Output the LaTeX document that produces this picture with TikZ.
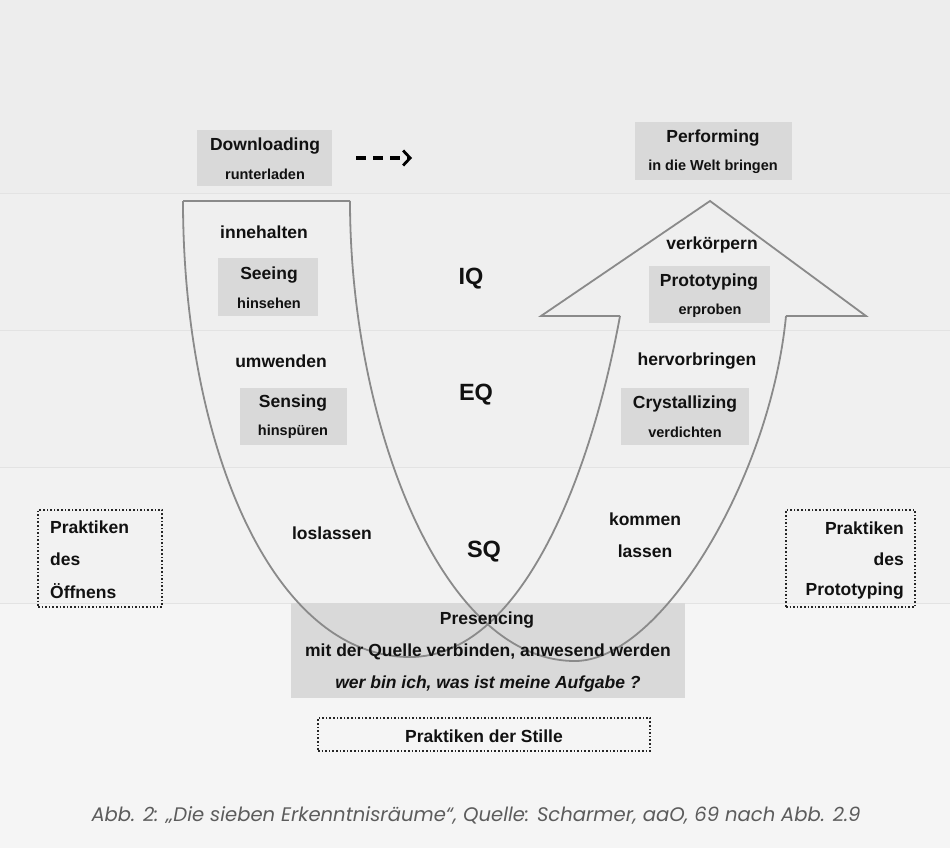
\documentclass[tikz,border=0pt]{standalone}
\usepackage{fontspec}
\setmainfont{Liberation Sans}
\newfontfamily\capfont{Poppins}
\usetikzlibrary{arrows.meta}
\definecolor{bgA}{HTML}{EDEDED}
\definecolor{bgB}{HTML}{EFEFEF}
\definecolor{bgC}{HTML}{F0F0F0}
\definecolor{bgD}{HTML}{F2F2F2}
\definecolor{bgE}{HTML}{F5F5F5}
\definecolor{bandline}{HTML}{E3E3E3}
\definecolor{boxgray}{HTML}{D9D9D9}
\definecolor{linegray}{HTML}{8A8A8A}
\definecolor{capgray}{HTML}{5C5C5C}
\definecolor{txt}{HTML}{111111}
\begin{document}
\begin{tikzpicture}[x=1pt,y=-1pt,
  lbl/.style={font=\fontsize{17.5}{20}\bfseries\selectfont, text=txt, inner sep=0pt},
  sublbl/.style={font=\fontsize{14.5}{17}\bfseries\selectfont, text=txt, inner sep=0pt},
  biglbl/.style={font=\fontsize{23.5}{26}\bfseries\selectfont, text=txt, inner sep=0pt},
  graybox/.style={fill=boxgray, draw=none, inner sep=0pt},
  dotbox/.style={draw=black!85, dotted, line width=1.6pt, inner sep=0pt},
  ushape/.style={draw=linegray, line width=1.8pt, line join=miter},
  dasharrow/.style={draw=black, line width=3.2pt, dash pattern=on 10pt off 7pt, -{Straight Barb[length=7pt,width=15pt,line width=2.8pt]}}
]
\useasboundingbox (0,0) rectangle (950,848);
% background bands
\fill[bgA] (0,0) rectangle (950,193);
\fill[bgB] (0,193) rectangle (950,330);
\fill[bgC] (0,330) rectangle (950,467);
\fill[bgD] (0,467) rectangle (950,603);
\fill[bgE] (0,603) rectangle (950,848);
\foreach \yy in {193,330,467,603} \draw[bandline, line width=1pt] (0,\yy) -- (950,\yy);

% presencing box (fill only)
\node[graybox, minimum width=394pt, minimum height=95pt] (presbox) at (488,650.5) {};

% U-shape
\coordinate (lo) at (183,201);
\coordinate (li) at (350,201);
\coordinate (ri) at (620,316);
\coordinate (ro) at (786,316);
\coordinate (lw) at (541,316);
\coordinate (rw) at (866,316);
\coordinate (tip) at (710,201);
\coordinate (bx) at (410,657);
\coordinate (by) at (575,661);
\draw[ushape] (lo) -- (li);
\draw[ushape] (lo) .. controls (183,440) and (270,657) .. (bx)
                   .. controls (520,657) and (590,480) .. (ri);
\draw[ushape] (li) .. controls (350,420) and (440,661) .. (by)
                   .. controls (660,661) and (770,480) .. (ro);
\draw[ushape] (ri) -- (lw) -- (tip) -- (rw) -- (ro);

% top boxes
\node[graybox, minimum width=135pt, minimum height=56pt] (dlbox) at (264.5,158) {};
\node[lbl] (dl) at (265,146) {Downloading};
\node[sublbl] (dlsub) at (265,174) {runterladen};
\coordinate (da1) at (356,158);
\coordinate (da2) at (412,158);
\draw[dasharrow] (da1) -- (da2);

\node[graybox, minimum width=157pt, minimum height=58pt] (pfbox) at (713.5,151) {};
\node[lbl] (pf) at (713,138) {Performing};
\node[sublbl] (pfsub) at (713,167) {in die Welt bringen};

% left arm
\node[lbl] (inne) at (264,232) {innehalten};
\node[graybox, minimum width=100pt, minimum height=58pt] (seebox) at (268,287) {};
\node[lbl] (see) at (269,275) {Seeing};
\node[sublbl] (seesub) at (269,303) {hinsehen};
\node[lbl] (umw) at (281,361) {umwenden};
\node[graybox, minimum width=107pt, minimum height=57pt] (senbox) at (293.5,416.5) {};
\node[lbl] (sen) at (293,403) {Sensing};
\node[sublbl] (sensub) at (293,432) {hinspüren};
\node[lbl] (los) at (332,533) {loslassen};

% middle
\node[biglbl] (iq) at (471,279) {IQ};
\node[biglbl] (eq) at (476,395) {EQ};
\node[biglbl] (sq) at (484,552) {SQ};

% right arm
\node[lbl] (verk) at (712,245) {verkörpern};
\node[graybox, minimum width=121pt, minimum height=57pt] (protbox) at (709.5,294.5) {};
\node[lbl] (prot) at (709,282) {Prototyping};
\node[sublbl] (protsub) at (710,311) {erproben};
\node[lbl] (herv) at (697,361) {hervorbringen};
\node[graybox, minimum width=128pt, minimum height=57pt] (crybox) at (685,416.5) {};
\node[lbl] (cry) at (685,404) {Crystallizing};
\node[sublbl] (crysub) at (685,432) {verdichten};
\node[lbl] (komm) at (645,519) {kommen};
\node[lbl] (lass) at (645,551) {lassen};

% presencing texts
\node[lbl] (pres) at (487,620) {Presencing};
\node[lbl] (mit) at (488,652) {mit der Quelle verbinden, anwesend werden};
\node[lbl, font=\fontsize{17.5}{20}\bfseries\itshape\selectfont] (wer) at (488,684) {wer bin ich, was ist meine Aufgabe ?};

% practice boxes
\node[dotbox, minimum width=124pt, minimum height=97pt] (oeffbox) at (100,558.5) {};
\node[lbl, anchor=west] (oe1) at (50,527) {Praktiken};
\node[lbl, anchor=west] (oe2) at (50,559) {des};
\node[lbl, anchor=west] (oe3) at (50,591) {Öffnens};

\node[dotbox, minimum width=129pt, minimum height=97pt] (protpbox) at (850.5,558.5) {};
\node[lbl, anchor=east] (pp1) at (904,528) {Praktiken};
\node[lbl, anchor=east] (pp2) at (904,559) {des};
\node[lbl, anchor=east] (pp3) at (904,591) {Prototyping};

\node[dotbox, minimum width=332pt, minimum height=33pt] (stillbox) at (484,734.5) {};
\node[lbl] (still) at (484,736) {Praktiken der Stille};

% caption
\node[font=\capfont\fontsize{19.6}{22}\selectfont\itshape, text=capgray, inner sep=0pt] (cap) at (476,815) {Abb. 2: „Die sieben Erkenntnisräume“, Quelle: Scharmer, aaO, 69 nach Abb. 2.9};
\end{tikzpicture}
\end{document}
